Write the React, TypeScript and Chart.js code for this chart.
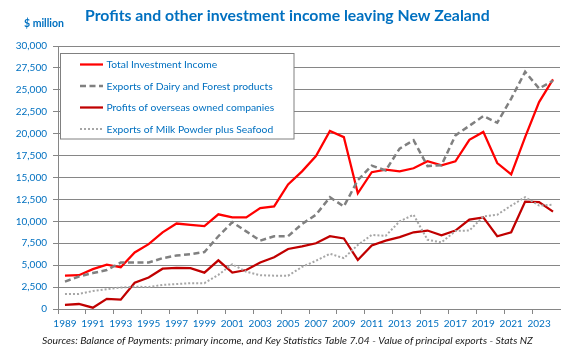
import React, { useEffect, useRef } from "react";
import { Chart, registerables } from "chart.js";

Chart.register(...registerables);

const years = [
  "1989", "1990", "1991", "1992", "1993", "1994", "1995", "1996", "1997", "1998",
  "1999", "2000", "2001", "2002", "2003", "2004", "2005", "2006", "2007", "2008",
  "2009", "2010", "2011", "2012", "2013", "2014", "2015", "2016", "2017", "2018",
  "2019", "2020", "2021", "2022", "2023", "2024",
];

const totalInvestmentIncome = [
  3800, 3850, 4550, 5050, 4750, 6450, 7400, 8750, 9750, 9600,
  9450, 10800, 10450, 10450, 11500, 11700, 14200, 15700, 17450, 20300,
  19600, 13200, 15600, 15900, 15700, 16050, 16850, 16400, 16850, 19300,
  20200, 16650, 15350, 19600, 23600, 26200,
];

const dairyForestExports = [
  3130, 3700, 4100, 4450, 5300, 5300, 5300, 5800, 6100, 6250,
  6500, 8300, 9900, 8850, 7800, 8300, 8300, 9700, 10750, 12750,
  11700, 14700, 16350, 15800, 18300, 19250, 16300, 16400, 19800, 20900,
  22000, 21250, 24000, 27050, 25150, 26050,
];

const overseasProfits = [
  460, 570, 150, 1150, 1070, 3000, 3600, 4600, 4700, 4650,
  4150, 5550, 4150, 4450, 5300, 5900, 6850, 7150, 7500, 8300,
  8050, 5600, 7250, 7800, 8200, 8750, 8950, 8400, 8950, 10200,
  10450, 8300, 8750, 12250, 12200, 11100,
];

const milkSeafoodExports = [
  1700, 1720, 2050, 2250, 2450, 2550, 2500, 2750, 2850, 2950,
  2950, 3900, 5100, 4250, 3850, 3800, 3800, 4800, 5500, 6300,
  5800, 7300, 8450, 8350, 10000, 10750, 7900, 7600, 8900, 8950,
  10550, 10750, 11800, 12750, 11800, 11900,
];

const seriesLabels = [
  "Total Investment Income",
  "Exports of Dairy and Forest products",
  "Profits of overseas owned companies",
  "Exports of Milk Powder plus Seafood",
];

const titleText = "Profits and other investment income leaving New Zealand";
const unitText = "$ million";
const sourceText =
  "Sources: Balance of Payments: primary income, and Key Statistics Table 7.04 - Value of principal exports - Stats NZ";

const FONT = "Lato, 'Open Sans', sans-serif";
const BLUE = "#0070C0";
const GRID = "#868686";

function fitFont(ctx: CanvasRenderingContext2D, text: string, style: string, target: number, base: number) {
  ctx.font = `${style} ${base}px ${FONT}`;
  const w = ctx.measureText(text).width;
  const size = Math.min(base * 1.3, (base * target) / w);
  ctx.font = `${style} ${size}px ${FONT}`;
}

const decorPlugin = {
  id: "decor",
  afterDatasetsDraw(chart: any) {
    const ctx: CanvasRenderingContext2D = chart.ctx;
    ctx.save();
    // legend box
    ctx.fillStyle = "#FFFFFF";
    ctx.fillRect(60.5, 53.5, 233.5, 85.5);
    ctx.strokeStyle = "#808080";
    ctx.lineWidth = 1;
    ctx.setLineDash([]);
    ctx.strokeRect(60.5, 53.5, 233.5, 85.5);
    const rows = [64.5, 86, 107.5, 129];
    chart.data.datasets.forEach((ds: any, i: number) => {
      const y = rows[i];
      ctx.strokeStyle = ds.borderColor;
      ctx.lineWidth = ds.borderWidth;
      ctx.setLineDash(ds.borderDash || []);
      ctx.beginPath();
      ctx.moveTo(80, y);
      ctx.lineTo(103, y);
      ctx.stroke();
      ctx.setLineDash([]);
      ctx.fillStyle = BLUE;
      ctx.font = `10.3px ${FONT}`;
      ctx.textAlign = "left";
      ctx.textBaseline = "middle";
      ctx.fillText(ds.label, 106.5, y + 0.5);
    });
    ctx.restore();
  },
  afterDraw(chart: any) {
    const ctx: CanvasRenderingContext2D = chart.ctx;
    ctx.save();
    ctx.textBaseline = "middle";
    ctx.textAlign = "left";
    ctx.fillStyle = BLUE;
    fitFont(ctx, titleText, "bold", 405, 16);
    ctx.fillText(titleText, 85, 15.5);
    fitFont(ctx, unitText, "bold", 40, 10);
    ctx.fillText(unitText, 24, 23.5);
    ctx.fillStyle = "#1A1A1A";
    fitFont(ctx, sourceText, "italic", 491, 10);
    ctx.fillText(sourceText, 42, 341);
    ctx.restore();
  },
};

export default function App() {
  const canvasRef = useRef<HTMLCanvasElement | null>(null);

  useEffect(() => {
    const canvas = canvasRef.current;
    if (!canvas) return;
    const chart = new Chart(canvas, {
      type: "line",
      data: {
        labels: years,
        datasets: [
          {
            label: seriesLabels[0],
            data: totalInvestmentIncome,
            borderColor: "#FF0000",
            borderWidth: 2.25,
            pointRadius: 0,
            tension: 0,
            order: 3,
          },
          {
            label: seriesLabels[1],
            data: dairyForestExports,
            borderColor: "#808080",
            borderWidth: 2.5,
            borderDash: [6, 3.5],
            pointRadius: 0,
            tension: 0,
            order: 2,
          },
          {
            label: seriesLabels[2],
            data: overseasProfits,
            borderColor: "#C00000",
            borderWidth: 2.25,
            pointRadius: 0,
            tension: 0,
            order: 1,
          },
          {
            label: seriesLabels[3],
            data: milkSeafoodExports,
            borderColor: "#A6A6A6",
            borderWidth: 2,
            borderDash: [2, 2],
            pointRadius: 0,
            tension: 0,
            order: 0,
          },
        ],
      },
      options: {
        responsive: false,
        animation: false,
        devicePixelRatio: 1,
        layout: { padding: { top: 46, right: 13, left: 0, bottom: 0 } },
        plugins: {
          legend: { display: false },
          title: { display: false },
          tooltip: { enabled: false },
        },
        scales: {
          x: {
            type: "category",
            offset: true,
            afterFit: (s: any) => {
              s.height = 42;
            },
            grid: {
              offset: true,
              drawOnChartArea: false,
              drawTicks: true,
              tickLength: 5,
              tickColor: (c: any) => (c.index % 2 === 0 ? GRID : "rgba(0,0,0,0)"),
            },
            border: { display: true, color: GRID, width: 1 },
            ticks: {
              autoSkip: false,
              maxRotation: 0,
              minRotation: 0,
              padding: 4,
              color: BLUE,
              font: { family: FONT, size: 10 },
              callback: (_v: any, idx: number) => (idx % 2 === 0 ? years[idx] : ""),
            },
          },
          y: {
            min: 0,
            max: 30000,
            afterFit: (s: any) => {
              s.width = 58;
            },
            grid: {
              color: GRID,
              lineWidth: 1,
              drawTicks: true,
              tickLength: 5,
            },
            border: { display: true, color: GRID, width: 1 },
            ticks: {
              stepSize: 2500,
              padding: 6,
              color: BLUE,
              font: { family: FONT, size: 10 },
              callback: (v: any) => Number(v).toLocaleString("en-US"),
            },
          },
        },
      },
      plugins: [decorPlugin],
    });
    return () => chart.destroy();
  }, []);

  return (
    <canvas
      ref={canvasRef}
      width={573}
      height={351}
      style={{ position: "fixed", left: 0, top: 0, width: 573, height: 351, display: "block" }}
    />
  );
}
